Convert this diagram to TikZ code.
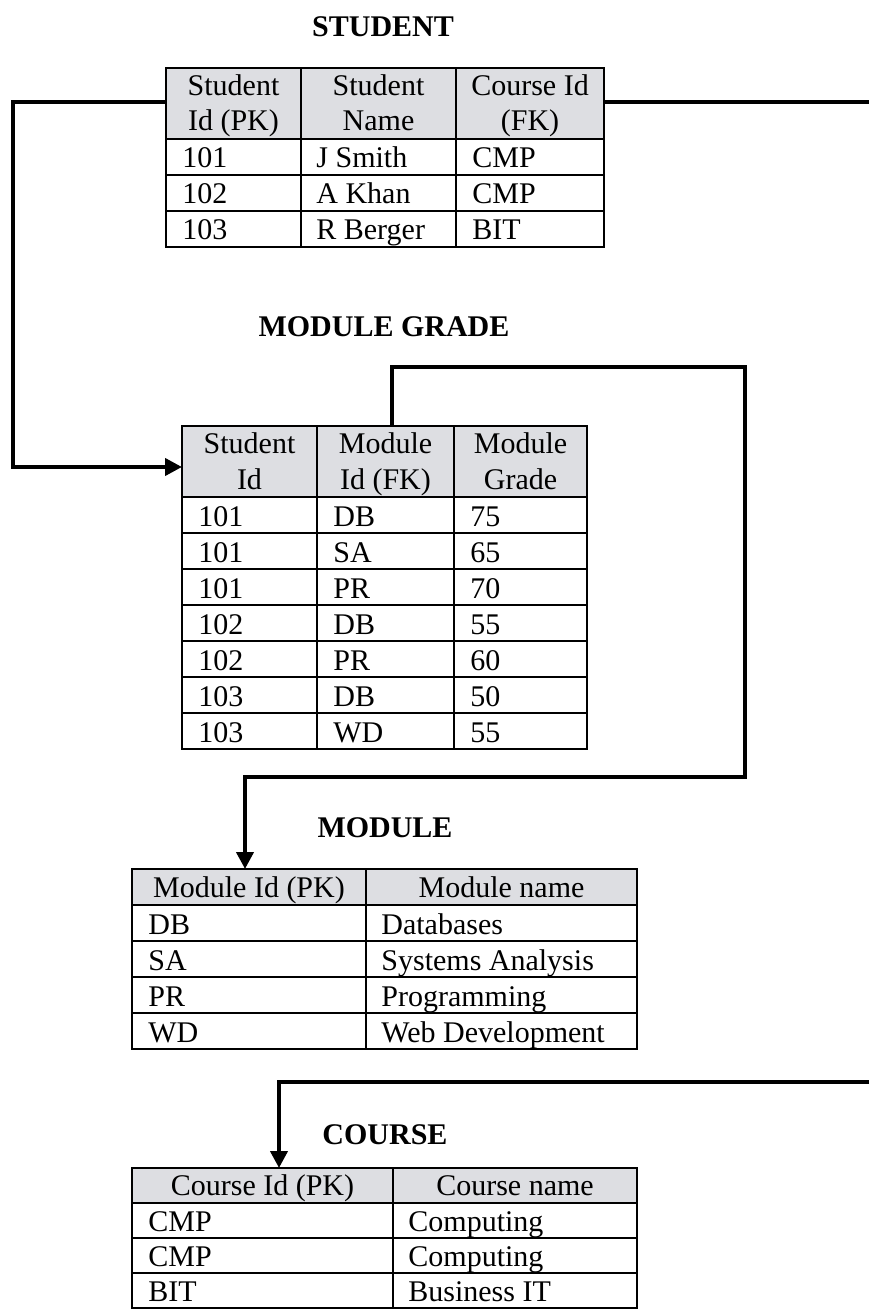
\documentclass[tikz,border=0pt]{standalone}
\usepackage{fontspec}
\setmainfont{Liberation Serif}
\usetikzlibrary{arrows.meta}
\definecolor{hdrgrey}{RGB}{221,222,226}

\begin{document}
\begin{tikzpicture}[x=0.5pt,y=-0.5pt,font=\fontsize{15}{17.5}\selectfont,
  tbl/.style={line width=1pt},
  link/.style={line width=2pt},
  arrowend/.style={-{Triangle[length=8.5pt,width=8.5pt]}},
  tabtitle/.style={font=\fontsize{15}{17.5}\selectfont\bfseries,anchor=base,inner sep=0pt},
  cell/.style={anchor=base west,inner sep=0pt},
  hcell/.style={align=center,inner sep=0pt}]
\useasboundingbox (0,0) rectangle (869,1309);

% STUDENT
\node[tabtitle] (tStudent) at (383,37) {STUDENT};
\fill[hdrgrey] (166,68) rectangle (604,139);
\draw[tbl] (166,68) rectangle (604,247);
\foreach \y in {139,175,211} \draw[tbl] (166,\y) -- (604,\y);
\foreach \x in {301,456} \draw[tbl] (\x,68) -- (\x,247);
\node[hcell] (sH1) at (233.5,106.5) {\strut Student\\\strut Id (PK)};
\node[hcell] (sH2) at (378.5,106.5) {\strut Student\\\strut Name};
\node[hcell] (sH3) at (530,106.5) {\strut Course Id\\\strut (FK)};
\foreach \r/\a/\b/\c in {1/101/J Smith/CMP,2/102/A Khan/CMP,3/103/R Berger/BIT}{
  \node[cell] (s\r a) at (182,132+36*\r) {\a};
  \node[cell] (s\r b) at (316,132+36*\r) {\b};
  \node[cell] (s\r c) at (472,132+36*\r) {\c};
}

% MODULE GRADE
\node[tabtitle] (tGrade) at (384,337) {MODULE GRADE};
\fill[hdrgrey] (182,426) rectangle (587,497);
\draw[tbl] (182,426) rectangle (587,749);
\foreach \y in {497,533,569,605,641,677,713} \draw[tbl] (182,\y) -- (587,\y);
\foreach \x in {317,454} \draw[tbl] (\x,426) -- (\x,749);
\node[hcell] (gH1) at (249.5,464.5) {\strut Student\\\strut Id};
\node[hcell] (gH2) at (385.5,464.5) {\strut Module\\\strut Id (FK)};
\node[hcell] (gH3) at (520.5,464.5) {\strut Module\\\strut Grade};
\foreach \r/\a/\b/\c in {1/101/DB/75,2/101/SA/65,3/101/PR/70,4/102/DB/55,
  5/102/PR/60,6/103/DB/50,7/103/WD/55}{
  \node[cell] (g\r a) at (198,490+36*\r) {\a};
  \node[cell] (g\r b) at (333,490+36*\r) {\b};
  \node[cell] (g\r c) at (470,490+36*\r) {\c};
}

% MODULE
\node[tabtitle] (tModule) at (385,837) {MODULE};
\fill[hdrgrey] (132,869) rectangle (637,905);
\draw[tbl] (132,869) rectangle (637,1049);
\foreach \y in {905,941,977,1013} \draw[tbl] (132,\y) -- (637,\y);
\draw[tbl] (366,869) -- (366,1049);
\node[cell,anchor=base] (mH1) at (249,897) {Module Id (PK)};
\node[cell,anchor=base] (mH2) at (501.5,897) {Module name};
\foreach \r/\a/\b in {1/DB/Databases,2/SA/Systems Analysis,3/PR/Programming,4/WD/Web Development}{
  \node[cell] (m\r a) at (148,898+36*\r) {\a};
  \node[cell] (m\r b) at (381,898+36*\r) {\b};
}

% COURSE
\node[tabtitle] (tCourse) at (385,1144) {COURSE};
\fill[hdrgrey] (132,1168) rectangle (637,1203);
\draw[tbl] (132,1168) rectangle (637,1308);
\foreach \y in {1203,1238,1273} \draw[tbl] (132,\y) -- (637,\y);
\draw[tbl] (393,1168) -- (393,1308);
\node[cell,anchor=base] (cH1) at (262.5,1195) {Course Id (PK)};
\node[cell,anchor=base] (cH2) at (515,1195) {Course name};
\foreach \r/\a/\b in {1/CMP/Computing,2/CMP/Computing,3/BIT/Business IT}{
  \node[cell] (c\r a) at (148,1196+35*\r) {\a};
  \node[cell] (c\r b) at (408,1196+35*\r) {\b};
}

% links
\coordinate (stuL) at (166,102);
\coordinate (stuR) at (604,102);
\coordinate (cornA) at (13,102);
\coordinate (grdL) at (182,467);
\coordinate (grdTop) at (392,426);
\coordinate (cornB) at (745,367);
\coordinate (cornC) at (745,777);
\coordinate (modTop) at (245,869);
\coordinate (pageR1) at (869,102);
\coordinate (pageR2) at (869,1082);
\coordinate (crsTop) at (279,1168);
\draw[link,arrowend] (stuL) -- (cornA) |- (grdL);
\draw[link,arrowend] (grdTop) |- (cornB) -- (cornC) -| (modTop);
\draw[link] (stuR) -- (pageR1);
\draw[link,arrowend] (pageR2) -| (crsTop);
\end{tikzpicture}
\end{document}
